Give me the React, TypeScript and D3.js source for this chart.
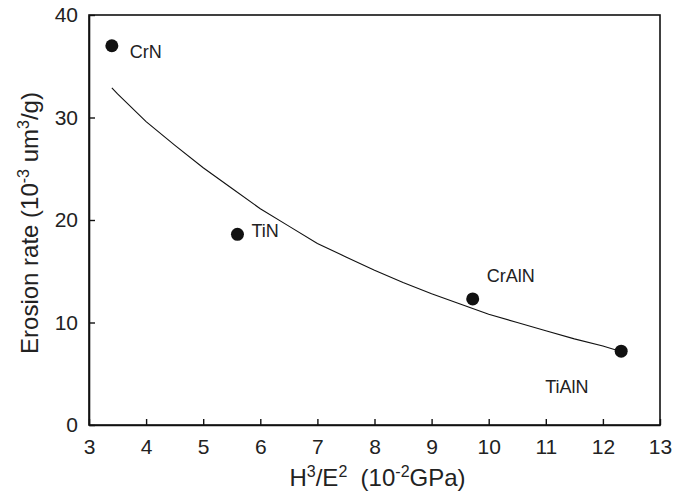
import { useEffect, useRef } from 'react';
import * as d3 from 'd3';

// measured points (H3/E2 in 1e-2 GPa, erosion rate in 1e-3 um3/g)
const coatings = ['CrN', 'TiN', 'CrAlN', 'TiAlN'];
const hardnessRatio = [3.4, 5.6, 9.72, 12.32];
const erosionRate = [37.0, 18.6, 12.3, 7.2];

// fitted trend line
const fitX = [3.4, 3.5, 4, 4.5, 5, 5.5, 6, 6.5, 7, 7.5, 8, 8.5, 9, 9.5, 10, 10.5, 11, 11.5, 12, 12.3];
const fitY = [32.9, 32.3, 29.6, 27.3, 25.1, 23.1, 21.1, 19.4, 17.7, 16.4, 15.1, 13.9, 12.8, 11.8, 10.8, 10.0, 9.2, 8.4, 7.7, 7.2];

const xTicks = [3, 4, 5, 6, 7, 8, 9, 10, 11, 12, 13];
const yTicks = [0, 10, 20, 30, 40];

// label offsets from each point, in pixels
const labelOffset = [[18, 12], [14, 3], [14, -17], [-76, 42]];

export default function App() {
  const svgRef = useRef<SVGSVGElement>(null);
  const width = 688;
  const height = 496;

  useEffect(() => {
    document.body.style.margin = '0';
    const svg = d3.select(svgRef.current);
    svg.selectAll('*').remove();

    const margin = { top: 15, right: 28, bottom: 71, left: 89 };
    const innerWidth = width - margin.left - margin.right;
    const innerHeight = height - margin.top - margin.bottom;
    const font = 'Liberation Sans, Arial, Helvetica, sans-serif';

    const x = d3.scaleLinear().domain([3, 13]).range([0, innerWidth]);
    const y = d3.scaleLinear().domain([0, 40]).range([innerHeight, 0]);

    const g = svg.append('g')
      .attr('transform', `translate(${margin.left},${margin.top})`);

    // frame
    g.append('rect')
      .attr('width', innerWidth)
      .attr('height', innerHeight)
      .attr('fill', 'none')
      .attr('stroke', '#111')
      .attr('stroke-width', 1.6);

    const xAxis = g.append('g')
      .attr('transform', `translate(0,${innerHeight})`)
      .call(d3.axisBottom(x).tickValues(xTicks).tickSizeInner(-6).tickSizeOuter(0).tickPadding(14));
    const yAxis = g.append('g')
      .call(d3.axisLeft(y).tickValues(yTicks).tickSizeInner(-6).tickSizeOuter(0).tickPadding(11));

    [xAxis, yAxis].forEach(ax => {
      ax.select('.domain').attr('stroke', '#111').attr('stroke-width', 1.6);
      ax.selectAll('.tick line').attr('stroke', '#111').attr('stroke-width', 1.4);
      ax.selectAll('.tick text')
        .attr('fill', '#222')
        .style('font-family', font)
        .style('font-size', '21px');
    });

    const line = d3.line<number>()
      .x((d, i) => x(fitX[i]))
      .y(d => y(d));

    g.append('path')
      .datum(fitY)
      .attr('d', line)
      .attr('fill', 'none')
      .attr('stroke', '#111')
      .attr('stroke-width', 1.1);

    g.selectAll('circle.pt')
      .data(coatings)
      .join('circle')
      .attr('class', 'pt')
      .attr('cx', (d, i) => x(hardnessRatio[i]))
      .attr('cy', (d, i) => y(erosionRate[i]))
      .attr('r', 6.5)
      .attr('fill', '#111');

    g.selectAll('text.lbl')
      .data(coatings)
      .join('text')
      .attr('class', 'lbl')
      .attr('x', (d, i) => x(hardnessRatio[i]) + labelOffset[i][0])
      .attr('y', (d, i) => y(erosionRate[i]) + labelOffset[i][1])
      .attr('fill', '#222')
      .style('font-family', font)
      .style('font-size', '18px')
      .text(d => d);

    // axis titles with superscripts
    const addTitle = (el: any, parts: [string, boolean][]) => {
      let up = false;
      parts.forEach(([t, sup]) => {
        const span = el.append('tspan').text(t);
        if (sup && !up) { span.attr('dy', -9).style('font-size', '16px'); up = true; }
        else if (sup) { span.style('font-size', '16px'); }
        else if (up) { span.attr('dy', 9); up = false; }
      });
    };

    const xt = svg.append('text')
      .attr('x', margin.left + innerWidth / 2 + 3)
      .attr('y', 486)
      .attr('text-anchor', 'middle')
      .attr('fill', '#222')
      .style('font-family', font)
      .style('font-size', '24px');
    addTitle(xt, [['H', false], ['3', true], ['/E', false], ['2', true], ['\u00a0\u00a0(10', false], ['-2', true], ['GPa)', false]]);

    const yt = svg.append('text')
      .attr('transform', `translate(38,${margin.top + innerHeight / 2 + 3}) rotate(-90)`)
      .attr('text-anchor', 'middle')
      .attr('fill', '#222')
      .style('font-family', font)
      .style('font-size', '24px');
    addTitle(yt, [['Erosion rate (10', false], ['-3', true], [' um', false], ['3', true], ['/g)', false]]);
  }, []);

  return <svg ref={svgRef} width={width} height={height} style={{ display: 'block', background: '#fff' }} />;
}
